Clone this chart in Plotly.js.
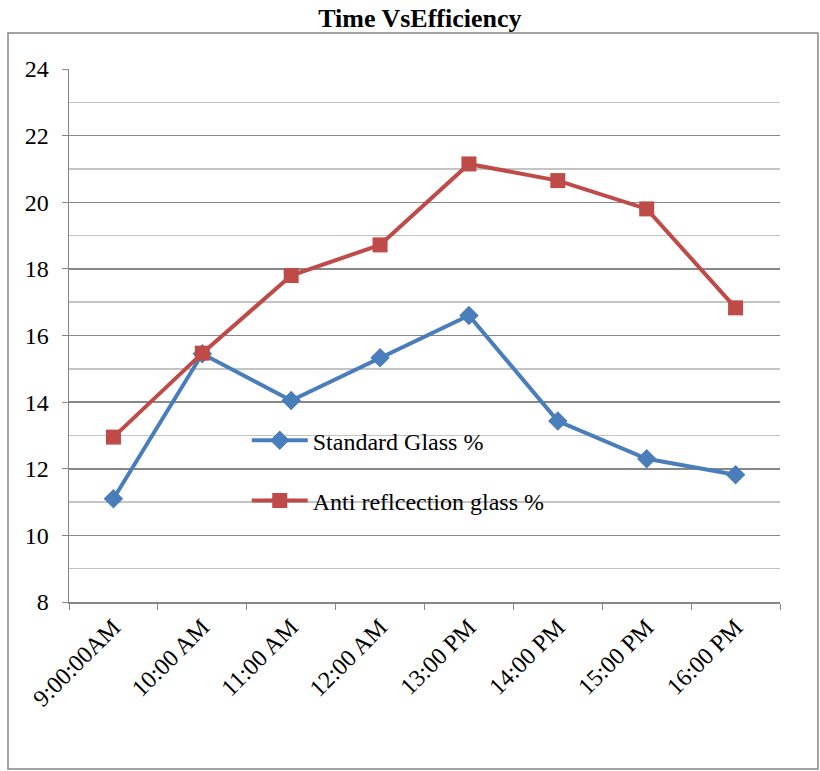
<!DOCTYPE html>
<html>
<head>
<meta charset="utf-8">
<script src="https://cdn.plot.ly/plotly-3.0.1.min.js"></script>
<style>html,body{margin:0;padding:0;background:#fff;}#chart{width:820px;height:771px;}</style>
</head>
<body>
<div id="chart"></div>
<script>
const categories = ["9:00:00AM", "10:00 AM", "11:00 AM", "12:00 AM", "13:00 PM", "14:00 PM", "15:00 PM", "16:00 PM"];
const standardGlass = [11.1, 15.45, 14.05, 15.33, 16.6, 13.43, 12.3, 11.82];
const antiReflection = [12.95, 15.47, 17.8, 18.72, 21.15, 20.65, 19.8, 16.83];
const seriesNames = ["Standard Glass %", "Anti reflcection glass %"];

const font = "'Liberation Serif', 'Times New Roman', Times, serif";

const traces = [
  {
    x: categories, y: standardGlass, name: seriesNames[0], type: "scatter", mode: "lines+markers",
    legendgroup: "a",
    line: {color: "#4a7ebb", width: 4},
    marker: {symbol: "diamond", size: 15, color: "#4a7ebb"}
  },
  {
    x: categories, y: antiReflection, name: seriesNames[1], type: "scatter", mode: "lines+markers",
    legendgroup: "b",
    line: {color: "#be4b48", width: 4},
    marker: {symbol: "square", size: 15, color: "#be4b48"}
  }
];

const layout = {
  width: 820, height: 771,
  margin: {l: 69, r: 40, t: 69, b: 169},
  paper_bgcolor: "#fff", plot_bgcolor: "#fff",
  font: {family: font, size: 24, color: "#000"},
  title: {text: "<b>Time VsEfficiency</b>", font: {family: font, size: 26, color: "#000"},
          x: 0.512, xref: "container", y: 0.977, yref: "container", yanchor: "middle"},
  showlegend: true,
  legend: {x: 0.25, y: 0.345, xanchor: "left", yanchor: "top", bgcolor: "rgba(0,0,0,0)",
           font: {family: font, size: 24, color: "#000"}, tracegroupgap: 26, itemwidth: 56},
  xaxis: {
    type: "category", range: [-0.5, 7.5], tickson: "boundaries", ticks: "outside", ticklen: 6,
    tickcolor: "#868686", showline: true, linecolor: "#868686", linewidth: 1.5,
    showgrid: false, tickangle: -45, tickfont: {family: font, size: 24, color: "#000"}, fixedrange: true
  },
  yaxis: {
    range: [8, 24], dtick: 2, tick0: 0, ticks: "outside", ticklen: 6, tickcolor: "#868686",
    showline: true, linecolor: "#868686", linewidth: 1.5, zeroline: false,
    showgrid: true, gridcolor: "#878787", gridwidth: 1.5,
    minor: {dtick: 1, showgrid: true, gridcolor: "#c4c4c4", gridwidth: 1.5},
    ticklabelstandoff: 8,
    tickfont: {family: font, size: 24, color: "#000"}, fixedrange: true
  },
  shapes: [{
    type: "rect", xref: "paper", yref: "paper",
    x0: -0.0858, x1: 1.0534, y0: -0.3133, y1: 1.0675,
    line: {color: "#868686", width: 1.5}, fillcolor: "rgba(0,0,0,0)", layer: "below"
  }]
};

Plotly.newPlot("chart", traces, layout, {displayModeBar: false, staticPlot: true});
</script>
</body>
</html>
